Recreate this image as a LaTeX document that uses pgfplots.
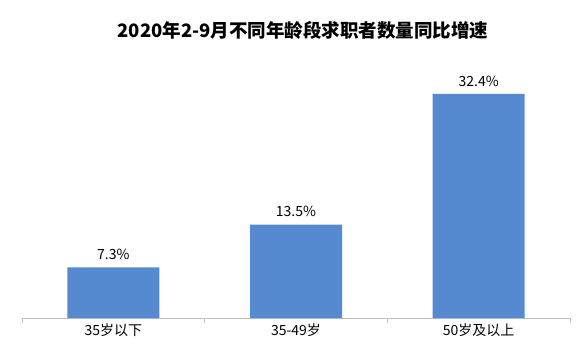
\documentclass[border=0pt]{standalone}
\usepackage{pgfplots}
\pgfplotsset{compat=1.18}
\usepackage{fontspec}
\setmainfont{Noto Sans CJK SC}
\definecolor{barblue}{RGB}{86,138,208}
\definecolor{axisgray}{RGB}{191,191,191}
\begin{document}
\begin{tikzpicture}[x=1pt,y=1pt]
\node[font=\fontsize{18.5}{20}\selectfont\bfseries] at (303,326) {2020年2-9月不同年龄段求职者数量同比增速};
\begin{axis}[
  at={(22pt,38pt)}, anchor=south west,
  scale only axis,
  width=548pt, height=263pt,
  xmin=-0.5, xmax=2.5,
  ymin=0, ymax=38,
  axis x line*=bottom,
  hide y axis,
  axis line style={axisgray, line width=1pt},
  xtick={0,1,2},
  xticklabels={35岁以下,35-49岁,50岁及以上},
  major tick length=0pt,
  minor xtick={-0.5,0.5,1.5,2.5},
  minor tick length=5pt,
  tick align=outside,
  minor tick style={axisgray, line width=1pt},
  x tick label style={font=\fontsize{14}{16}\selectfont, yshift=-2pt},
  ybar,
  bar width=92pt,
  /pgf/number format/assume math mode=true,
  nodes near coords={\pgfmathprintnumber[fixed,precision=1,fixed zerofill,assume math mode=true]{\pgfplotspointmeta}\%},
  nodes near coords style={font=\fontsize{14}{16}\selectfont, black, yshift=4pt},
  clip=false,
]
\addplot[fill=barblue, draw=none] coordinates {(0,7.3) (1,13.5) (2,32.4)};
\end{axis}
\pgfresetboundingbox
\useasboundingbox (0,0) rectangle (580,356);
\end{tikzpicture}
\end{document}
